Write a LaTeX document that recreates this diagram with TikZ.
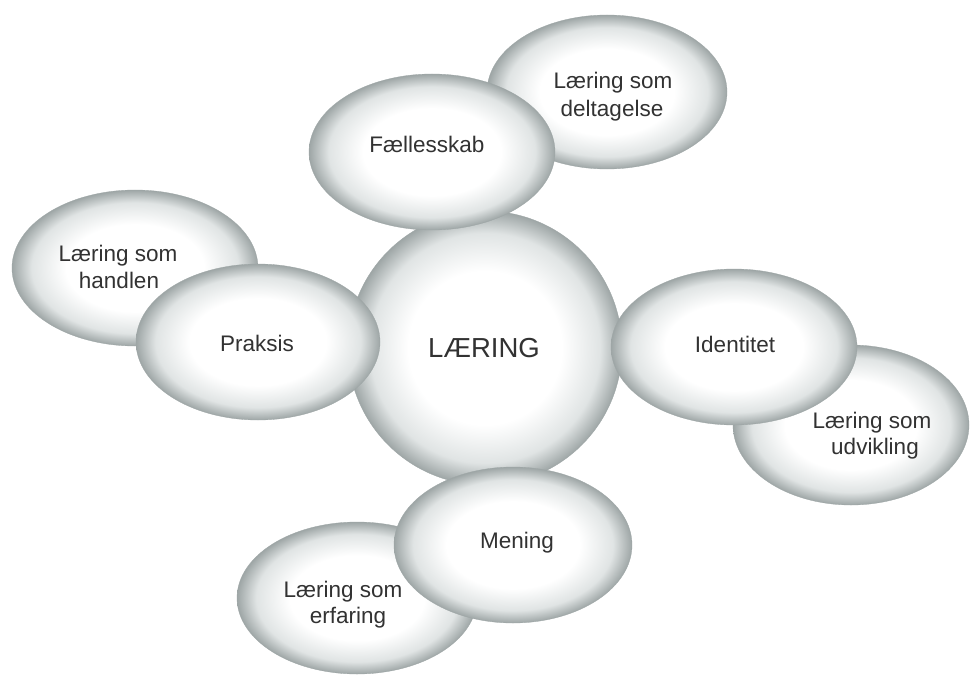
\documentclass[tikz,border=0pt]{standalone}
\usepackage{fontspec}
\setmainfont{Liberation Sans}
\usetikzlibrary{shapes.geometric}

\definecolor{bubbleedge}{RGB}{158,166,166}
\definecolor{bubblemid}{RGB}{224,228,228}
\definecolor{labelgray}{RGB}{50,50,50}

% soft white-to-grey bubble: white core, grey rim at the shape's edge (25bp)
\pgfdeclareradialshading{bubbleshade}{\pgfpoint{0bp}{0bp}}{%
  color(0bp)=(white); color(14bp)=(white); color(21bp)=(bubblemid);
  color(25bp)=(bubbleedge); color(50bp)=(bubbleedge)}

\tikzset{
  bubble/.style={ellipse, inner sep=0pt, shading=bubbleshade,
    draw=bubbleedge, line width=0.3pt,
    minimum width=246bp, minimum height=156bp},
  hub/.style={circle, inner sep=0pt, shading=bubbleshade,
    draw=bubbleedge, line width=0.3pt, minimum size=274bp},
  lbl/.style={anchor=base, inner sep=0pt, text=labelgray,
    font=\fontsize{22.5bp}{27bp}\selectfont},
  hublbl/.style={lbl, font=\fontsize{27.5bp}{32bp}\selectfont}
}

\begin{document}
\begin{tikzpicture}[x=1bp, y=-1bp]
  \useasboundingbox[fill=white] (0,0) rectangle (970,675);

  % outer ring of "Læring som ..." bubbles (lowest layer)
  \node[bubble] (handlen)  at (135,268) {};
  \node[bubble, minimum width=240bp, minimum height=154bp] (deltag) at (607,92) {};
  \node[bubble, minimum width=236bp, minimum height=160bp] (udvikl) at (851,425) {};
  \node[bubble, minimum width=240bp, minimum height=152bp] (erfar) at (357,598) {};

  % central circle
  \node[hub] (laering) at (485,348) {};

  % inner bubbles overlapping the circle
  \node[bubble, minimum width=244bp] (praksis) at (258,342) {};
  \node[bubble] (faelles)  at (432,152) {};
  \node[bubble] (ident)    at (734,347) {};
  \node[bubble, minimum width=238bp] (mening) at (513,545) {};

  % labels
  \node[hublbl] (laeringT) at (484,357) {LÆRING};
  \node[lbl] (handlenA) at (118,261) {Læring som};
  \node[lbl] (handlenB) at (119,288) {handlen};
  \node[lbl] (deltagA)  at (613,89)  {Læring som};
  \node[lbl] (deltagB)  at (612,117) {deltagelse};
  \node[lbl] (udviklA)  at (872,428) {Læring som};
  \node[lbl] (udviklB)  at (875,454) {udvikling};
  \node[lbl] (erfarA)   at (343,597) {Læring som};
  \node[lbl] (erfarB)   at (348,623) {erfaring};
  \node[lbl] (praksisT) at (257,351) {Praksis};
  \node[lbl] (faellesT) at (427,153) {Fællesskab};
  \node[lbl] (identT)   at (735,352) {Identitet};
  \node[lbl] (meningT)  at (517,548) {Mening};
\end{tikzpicture}
\end{document}
